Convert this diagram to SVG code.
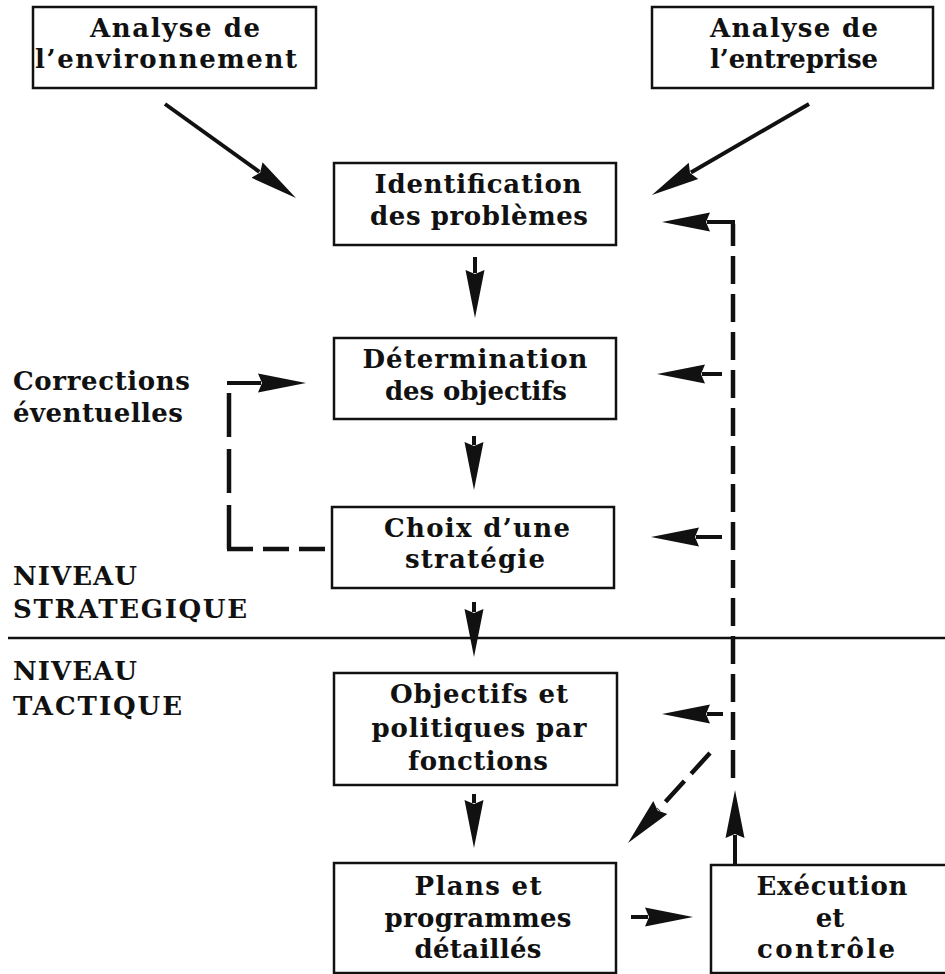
<svg xmlns="http://www.w3.org/2000/svg" width="945" height="974" viewBox="0 0 945 974">
<style>
.box{fill:#fff;stroke:#111;stroke-width:2.5}
.t{font-family:"DejaVu Serif","Liberation Serif",serif;font-weight:bold;font-size:26px;fill:#111}
.c{text-anchor:middle}
.ln{fill:none;stroke:#111;stroke-width:4}
.ds{fill:none;stroke:#111;stroke-width:4.5;stroke-dasharray:28 10}
</style>
<defs>
<marker id="ah" markerUnits="userSpaceOnUse" markerWidth="50" markerHeight="22" viewBox="0 0 50 22" refX="3" refY="11" orient="auto">
<path d="M0,1.5 L48,11 L0,20.5 L4,11 z" fill="#111"/>
</marker>
</defs>
<rect width="945" height="974" fill="#fff"/>

<g id="n_env">
<rect class="box" x="33" y="7" width="283" height="81"/>
<text class="t c" x="175" y="37" textLength="170" lengthAdjust="spacing">Analyse de</text>
<text class="t c" x="166" y="68" textLength="262" lengthAdjust="spacing">l’environnement</text>
</g>
<g id="n_ent">
<rect class="box" x="652" y="7" width="281" height="81"/>
<text class="t c" x="794" y="37" textLength="168" lengthAdjust="spacing">Analyse de</text>
<text class="t c" x="794" y="68" textLength="168" lengthAdjust="spacing">l’entreprise</text>
</g>
<g id="n_ident">
<rect class="box" x="334" y="163" width="282" height="82"/>
<text class="t c" x="478" y="193" textLength="207" lengthAdjust="spacing">Identification</text>
<text class="t c" x="479" y="225" textLength="218" lengthAdjust="spacing">des problèmes</text>
</g>
<g id="n_det">
<rect class="box" x="334" y="338" width="282" height="81"/>
<text class="t c" x="475" y="368" textLength="225" lengthAdjust="spacing">Détermination</text>
<text class="t c" x="476" y="400" textLength="182" lengthAdjust="spacing">des objectifs</text>
</g>
<g id="n_choix">
<rect class="box" x="332" y="507" width="282" height="81"/>
<text class="t c" x="477" y="537" textLength="186" lengthAdjust="spacing">Choix d’une</text>
<text class="t c" x="475" y="568" textLength="140" lengthAdjust="spacing">stratégie</text>
</g>
<g id="n_obj">
<rect class="box" x="334" y="673" width="283" height="112"/>
<text class="t c" x="479" y="703" textLength="178" lengthAdjust="spacing">Objectifs et</text>
<text class="t c" x="479" y="737" textLength="215" lengthAdjust="spacing">politiques par</text>
<text class="t c" x="478" y="770" textLength="140" lengthAdjust="spacing">fonctions</text>
</g>
<g id="n_plans">
<rect class="box" x="334" y="863" width="282" height="110"/>
<text class="t c" x="478" y="895" textLength="127" lengthAdjust="spacing">Plans et</text>
<text class="t c" x="478" y="927" textLength="187" lengthAdjust="spacing">programmes</text>
<text class="t c" x="478" y="958" textLength="127" lengthAdjust="spacing">détaillés</text>
</g>
<g id="n_exec">
<rect class="box" x="711" y="865" width="240" height="108"/>
<text class="t c" x="832" y="895" textLength="151" lengthAdjust="spacing">Exécution</text>
<text class="t c" x="830" y="927">et</text>
<text class="t c" x="826" y="958" textLength="138" lengthAdjust="spacing">contrôle</text>
</g>

<g id="labels">
<text class="t" x="13" y="390" textLength="177" lengthAdjust="spacing">Corrections</text>
<text class="t" x="13" y="422" textLength="170" lengthAdjust="spacing">éventuelles</text>
<text class="t" x="13" y="585" textLength="124" lengthAdjust="spacing">NIVEAU</text>
<text class="t" x="13" y="618" textLength="234" lengthAdjust="spacing">STRATEGIQUE</text>
<text class="t" x="13" y="680" textLength="124" lengthAdjust="spacing">NIVEAU</text>
<text class="t" x="13" y="715" textLength="169" lengthAdjust="spacing">TACTIQUE</text>
</g>

<g id="divider">
<line x1="8" y1="638" x2="945" y2="638" stroke="#111" stroke-width="2.5"/>
</g>

<g id="connectors">
<path class="ln" d="M165,104 L259.4,171.8" marker-end="url(#ah)"/>
<path class="ln" d="M809,104 L690.9,172.4" marker-end="url(#ah)"/>
<path class="ln" d="M475,257 V273" marker-end="url(#ah)"/>
<path class="ln" d="M474,436 V445" marker-end="url(#ah)"/>
<path class="ln" d="M474,602 V612" marker-end="url(#ah)"/>
<path class="ln" d="M474,794 V803" marker-end="url(#ah)"/>
<path class="ds" d="M733,778 V224"/>
<path class="ln" d="M735,222 H707" marker-end="url(#ah)"/>
<path class="ln" d="M733,222 V232"/>
<path class="ln" d="M722,374 H702" marker-end="url(#ah)"/>
<path class="ln" d="M722,537 H696" marker-end="url(#ah)"/>
<path class="ln" d="M723,714 H707" marker-end="url(#ah)"/>
<path class="ln" d="M631,917 H648" marker-end="url(#ah)"/>
<path class="ln" d="M735,865 V835" marker-end="url(#ah)"/>
<path class="ds" d="M710,753 L658.3,809.7" marker-end="url(#ah)"/>
<path class="ds" d="M229,549 V381" style="stroke-dasharray:44 12"/>
<path class="ds" d="M227,549 H332" style="stroke-dasharray:26 10"/>
<path class="ln" d="M227,383 H261" marker-end="url(#ah)"/>
</g>
</svg>
